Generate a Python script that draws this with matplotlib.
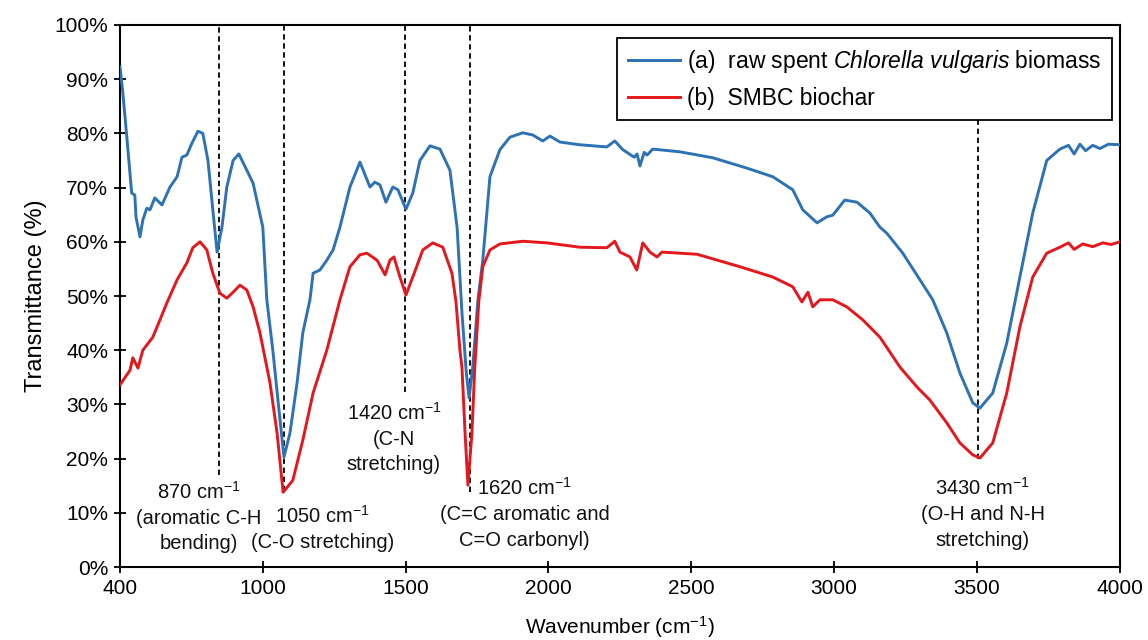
import matplotlib
matplotlib.use("Agg")
import matplotlib.pyplot as plt

plt.rcParams['font.family'] = ['Liberation Sans', 'DejaVu Sans']
plt.rcParams['mathtext.fontset'] = 'custom'
plt.rcParams['mathtext.rm'] = 'Liberation Sans'
plt.rcParams['mathtext.it'] = 'Liberation Sans:italic'

# ---- data ----
blue_x = [500, 510, 524, 541, 552, 556, 570, 580, 594, 605, 622, 647, 675, 700, 717, 734, 752, 773, 790,
          808, 825, 840, 857, 874, 896, 916, 944, 966, 1000, 1014, 1035, 1053, 1074, 1095, 1120, 1140,
          1165, 1176, 1200, 1224, 1246, 1270, 1305, 1340, 1375, 1392, 1410, 1431, 1455, 1473, 1501, 1525,
          1550, 1585, 1620, 1655, 1680, 1697, 1712, 1722, 1735, 1753, 1770, 1795, 1830, 1865, 1910, 1945,
          1980, 2005, 2040, 2110, 2204, 2232, 2260, 2280, 2300, 2310, 2320, 2335, 2345, 2365, 2460, 2575,
          2694, 2785, 2855, 2890, 2940, 2974, 2995, 3037, 3080, 3125, 3160, 3184, 3240, 3300, 3345, 3394,
          3440, 3485, 3510, 3555, 3604, 3650, 3695, 3744, 3790, 3820, 3840, 3860, 3880, 3905, 3930, 3960, 4000]
blue_y = [92.3, 87.5, 79.3, 69, 68.6, 64.6, 60.9, 64, 66.2, 65.9, 68.1, 66.8, 70.1, 72, 75.6, 76, 78.2, 80.4, 80,
          75, 65.9, 58.1, 62.7, 70.1, 75, 76.2, 73.2, 70.8, 62.7, 49.3, 40, 30.8, 20.3, 24.7, 34, 43.2,
          49.3, 54.2, 54.8, 56.6, 58.5, 62.7, 70.1, 74.7, 70.1, 71, 70.5, 67.3, 70.1, 69.6, 66, 69,
          75, 77.7, 77.1, 73.2, 62.7, 47, 36, 31.2, 36.9, 49.3, 56.6, 72, 77, 79.3, 80.1, 79.7,
          78.6, 79.5, 78.4, 77.9, 77.5, 78.6, 77, 76.3, 75.6, 76.2, 74, 76.5, 76, 77.1, 76.6, 75.5,
          73.6, 72, 69.6, 65.9, 63.5, 64.6, 64.9, 67.7, 67.3, 65.3, 62.7, 61.6, 57.9, 53, 49.3, 43.2,
          35.8, 30.3, 29.3, 32.1, 41.3, 53.5, 65.3, 75, 77.1, 77.8, 76.2, 78, 76.8, 77.8, 77.2, 78, 77.9]

red_x = [500, 535, 545, 563, 580, 615, 640, 664, 700, 734, 755, 780, 804, 825, 850, 874, 896, 920, 944,
         966, 990, 1025, 1050, 1071, 1105, 1140, 1176, 1224, 1270, 1305, 1340, 1364, 1400, 1428, 1445,
         1459, 1480, 1501, 1525, 1560, 1595, 1630, 1662, 1676, 1690, 1697, 1708, 1718, 1732, 1742, 1756,
         1770, 1795, 1830, 1910, 1994, 2110, 2204, 2232, 2250, 2285, 2309, 2330, 2355, 2380, 2397, 2520,
         2670, 2785, 2855, 2887, 2908, 2925, 2950, 2995, 3044, 3100, 3160, 3230, 3290, 3335, 3394, 3440,
         3485, 3510, 3555, 3604, 3650, 3695, 3744, 3790, 3820, 3840, 3870, 3905, 3940, 3970, 4000]
red_y = [33.6, 36.3, 38.6, 36.7, 40, 42.4, 45.6, 48.7, 53, 56.1, 58.9, 60, 58.5, 54.2, 50.5, 49.6, 50.7, 52, 51.1,
         48, 43.2, 34, 24.7, 13.8, 16, 23.4, 32.1, 40, 49.3, 55.4, 57.6, 57.9, 56.6, 53.9, 56.6,
         57.2, 53.5, 50.2, 53.5, 58.5, 59.8, 59, 54.2, 49, 40, 36.9, 24.7, 15.1, 24.7, 36.9, 49,
         55.4, 58.5, 59.6, 60.1, 59.8, 59, 58.9, 60.1, 58.1, 57.2, 54.8, 59.8, 58.1, 57.2, 58.1, 57.7,
         55.4, 53.5, 51.7, 48.9, 50.7, 48, 49.3, 49.3, 48, 45.6, 42.4, 36.9, 33.2, 30.8, 26.6, 22.9,
         20.7, 20.1, 22.9, 32.1, 44.3, 53.5, 57.9, 59, 59.8, 58.6, 59.6, 59.1, 59.8, 59.5, 60]

series_labels = [r"(a)  raw spent $\mathit{Chlorella\ vulgaris}$ biomass", "(b)  SMBC biochar"]

peak_x = [846, 1074, 1497, 1725, 3503]
peak_bottom = [17, 14, 32.3, 13.8, 20]
peak_top = [100, 100, 100, 100, 83]

annot_texts = ["870 cm$^{-1}$\n(aromatic C-H\nbending)",
               "1050 cm$^{-1}$\n(C-O stretching)",
               "1420 cm$^{-1}$\n(C-N\nstretching)",
               "1620 cm$^{-1}$\n(C=C aromatic and\nC=O carbonyl)",
               "3430 cm$^{-1}$\n(O-H and N-H\nstretching)"]
annot_x = [775, 1208, 1459, 1917, 3520]
annot_y = [15.9, 11.4, 30.5, 16.6, 16.6]

xtick_pos = [500, 1000, 1500, 2000, 2500, 3000, 3500, 4000]
xtick_labels = ["400", "1000", "1500", "2000", "2500", "3000", "3500", "4000"]
ytick_pos = list(range(0, 101, 10))
ytick_labels = [f"{v}%" for v in ytick_pos]

# ---- figure ----
fig = plt.figure(figsize=(11.48, 6.4), dpi=100)
ax = fig.add_axes([0.1045, 0.114, 0.871, 0.847])

blue = '#2c72b4'
red = '#e5161c'
ax.plot(blue_x, blue_y, color=blue, lw=2.1, label=series_labels[0], zorder=3)
ax.plot(red_x, red_y, color=red, lw=2.1, label=series_labels[1], zorder=3)

for px, yb, yt in zip(peak_x, peak_bottom, peak_top):
    ax.plot([px, px], [yb, yt], color='black', lw=1.3, ls=(0, (3, 2)), zorder=2)

for t, x, y in zip(annot_texts, annot_x, annot_y):
    ax.text(x, y, t, ha='center', va='top', fontsize=14.5, linespacing=1.42,
            multialignment='center', color='#111111')

ax.set_xlim(500, 4000)
ax.set_ylim(0, 100)
ax.set_xticks(xtick_pos)
ax.set_xticklabels(xtick_labels)
ax.set_yticks(ytick_pos)
ax.set_yticklabels(ytick_labels)
ax.tick_params(direction='inout', length=9, width=1.3, labelsize=15, pad=4)
for s in ax.spines.values():
    s.set_linewidth(1.5)

ax.set_xlabel("Wavenumber (cm$^{-1}$)", fontsize=15, labelpad=12)
ax.set_ylabel("Transmittance (%)", fontsize=17, labelpad=5)

leg = ax.legend(loc='upper right', bbox_to_anchor=(0.992, 0.976), borderaxespad=0,
                fontsize=16.5, handlelength=2.3, handletextpad=0.3, frameon=True,
                fancybox=False, edgecolor='black', framealpha=1, borderpad=0.45,
                labelspacing=0.5)
leg.get_frame().set_linewidth(1.3)

fig.savefig("out.png", dpi=100)
